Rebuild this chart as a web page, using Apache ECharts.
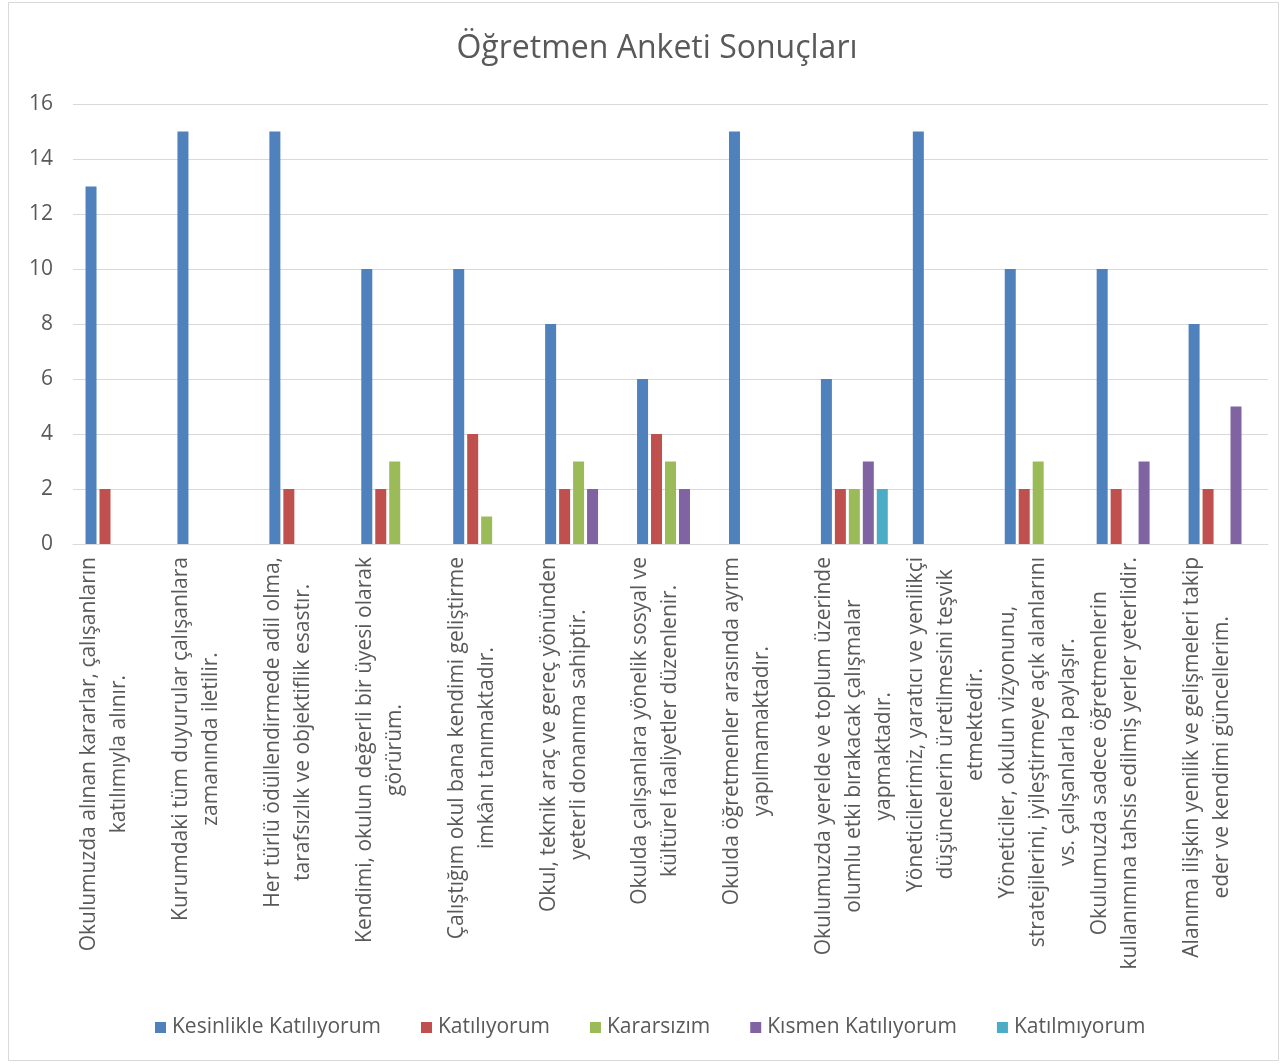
<!DOCTYPE html>
<html>
<head>
<meta charset="utf-8">
<script src="https://cdn.jsdelivr.net/npm/echarts@6/dist/echarts.min.js"></script>
<style>
  html, body { margin: 0; padding: 0; background: #fff; }
  #chart { width: 1281px; height: 1064px; }
</style>
</head>
<body>
<div id="chart"></div>
<script>
// survey statements (line breaks as in the original labels)
const categories = [
    'Okulumuzda alınan kararlar, çalışanların\nkatılımıyla alınır.',
    'Kurumdaki tüm duyurular çalışanlara\nzamanında iletilir.',
    'Her türlü ödüllendirmede adil olma,\ntarafsızlık ve objektiflik esastır.',
    'Kendimi, okulun değerli bir üyesi olarak\ngörürüm.',
    'Çalıştığım okul bana kendimi geliştirme\nimkânı tanımaktadır.',
    'Okul, teknik araç ve gereç yönünden\nyeterli donanıma sahiptir.',
    'Okulda çalışanlara yönelik sosyal ve\nkültürel faaliyetler düzenlenir.',
    'Okulda öğretmenler arasında ayrım\nyapılmamaktadır.',
    'Okulumuzda yerelde ve toplum üzerinde\nolumlu etki bırakacak çalışmalar\nyapmaktadır.',
    'Yöneticilerimiz, yaratıcı ve yenilikçi\ndüşüncelerin üretilmesini teşvik\netmektedir.',
    'Yöneticiler, okulun vizyonunu,\nstratejilerini, iyileştirmeye açık alanlarını\nvs. çalışanlarla paylaşır.',
    'Okulumuzda sadece öğretmenlerin\nkullanımına tahsis edilmiş yerler yeterlidir.',
    'Alanıma ilişkin yenilik ve gelişmeleri takip\neder ve kendimi güncellerim.'
];

const seriesNames = ['Kesinlikle Katılıyorum', 'Katılıyorum', 'Kararsızım', 'Kısmen Katılıyorum', 'Katılmıyorum'];

const kesinlikleKatiliyorum = [13, 15, 15, 10, 10, 8, 6, 15, 6, 15, 10, 10, 8];
const katiliyorum          = [2, 0, 2, 2, 4, 2, 4, 0, 2, 0, 2, 2, 2];
const kararsizim           = [0, 0, 0, 3, 1, 3, 3, 0, 2, 0, 3, 0, 0];
const kismenKatiliyorum    = [0, 0, 0, 0, 0, 2, 2, 0, 3, 0, 0, 3, 5];
const katilmiyorum         = [0, 0, 0, 0, 0, 0, 0, 0, 2, 0, 0, 0, 0];

const yTicks = [0, 2, 4, 6, 8, 10, 12, 14, 16];

const colors = ['#4F81BD', '#C0504D', '#9BBB59', '#8064A2', '#4BACC6'];
const textColor = '#595959';
const font = '"Open Sans", "DejaVu Sans", sans-serif';

var chart = echarts.init(document.getElementById('chart'));

const seriesData = [kesinlikleKatiliyorum, katiliyorum, kararsizim, kismenKatiliyorum, katilmiyorum];

var option = {
    backgroundColor: '#fff',
    color: colors,
    animation: false,
    title: {
        text: 'Öğretmen Anketi Sonuçları',
        left: 652,
        textAlign: 'center',
        top: 28,
        textStyle: {
            fontFamily: font,
            fontSize: 32,
            fontWeight: 'normal',
            color: textColor
        }
    },
    graphic: [{
        type: 'rect',
        shape: { x: 8.5, y: 2.5, width: 1270, height: 1058 },
        style: { fill: 'none', stroke: '#D9D9D9', lineWidth: 1 },
        silent: true
    }],
    legend: {
        data: seriesNames,
        bottom: 21,
        left: 150,
        icon: 'rect',
        itemWidth: 11,
        itemHeight: 11,
        itemGap: 40,
        textStyle: {
            fontFamily: font,
            fontSize: 21,
            color: textColor,
            padding: [0, 0, 0, 1]
        }
    },
    grid: {
        left: 73,
        right: 13,
        top: 104,
        bottom: 520
    },
    xAxis: {
        type: 'category',
        data: categories,
        axisTick: { show: false },
        axisLine: { lineStyle: { color: '#D9D9D9' } },
        axisLabel: {
            interval: 0,
            rotate: 90,
            margin: 13,
            // pad every label to three lines, like the original layout
            formatter: function (value) {
                let lines = value.split('\n');
                while (lines.length < 3) lines.push(' ');
                return lines.map(l => '{c|' + l + '}').join('\n');
            },
            rich: {
                c: {
                    align: 'center',
                    fontFamily: font,
                    fontSize: 21,
                    lineHeight: 30,
                    color: textColor
                }
            }
        }
    },
    yAxis: {
        type: 'value',
        min: yTicks[0],
        max: yTicks[yTicks.length - 1],
        interval: 2,
        axisLine: { show: false },
        axisTick: { show: false },
        axisLabel: {
            margin: 20,
            fontFamily: font,
            fontSize: 21,
            color: textColor
        },
        splitLine: { lineStyle: { color: '#D9D9D9' } }
    },
    series: seriesNames.map((name, i) => ({
        name: name,
        type: 'bar',
        data: seriesData[i],
        barWidth: 11,
        barGap: '27%',
        itemStyle: { color: colors[i] }
    }))
};

chart.setOption(option);
</script>
</body>
</html>
